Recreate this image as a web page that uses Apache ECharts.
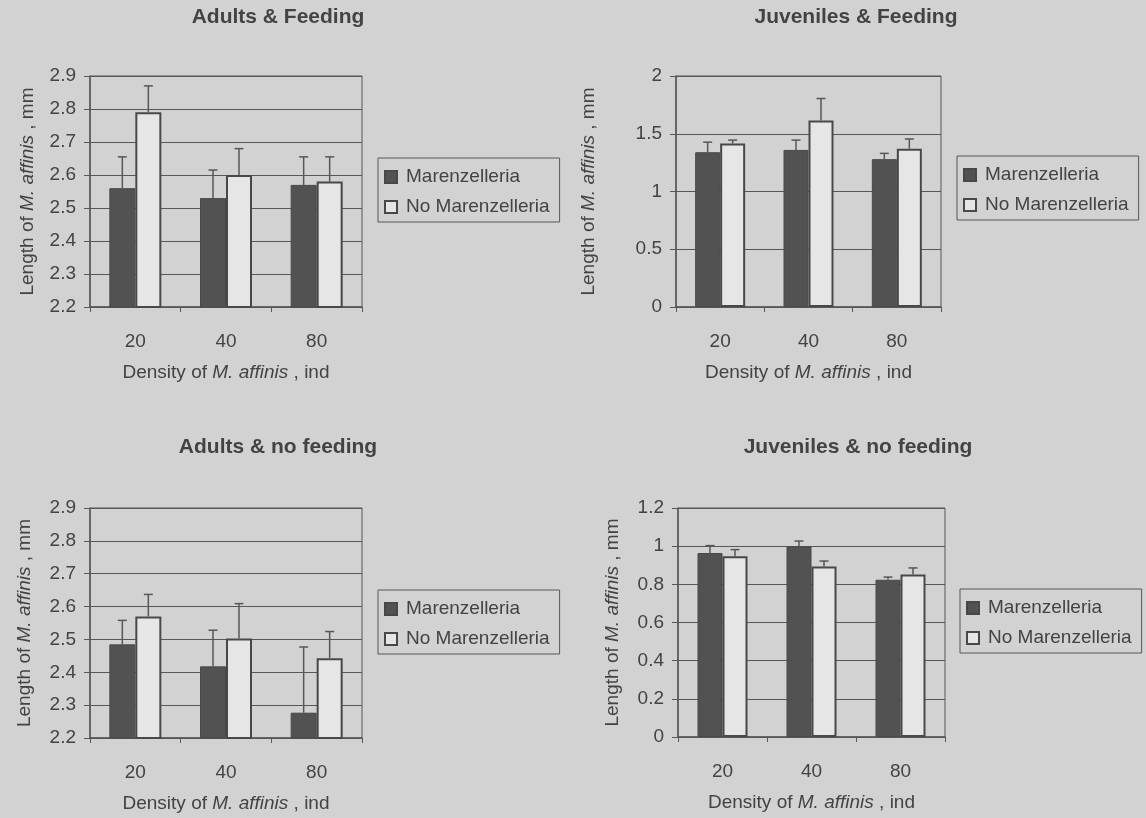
<!DOCTYPE html>
<html>
<head>
<meta charset="utf-8">
<script src="https://cdn.jsdelivr.net/npm/echarts@6/dist/echarts.min.js"></script>
<style>
    html, body { margin: 0; padding: 0; background: #d2d2d2; }
    #main { width: 1146px; height: 818px; }
</style>
</head>
<body>
<div id="main"></div>
<script>
    // categories (density of M. affinis)
    const densities = ['20', '40', '80'];
    const seriesNames = ['Marenzelleria', 'No Marenzelleria'];

    // Adults & Feeding
    const adFeedMar = [2.56, 2.53, 2.57];
    const adFeedMarErr = [0.095, 0.085, 0.085];
    const adFeedNoMar = [2.79, 2.60, 2.58];
    const adFeedNoMarErr = [0.08, 0.08, 0.075];

    // Juveniles & Feeding
    const juvFeedMar = [1.34, 1.36, 1.28];
    const juvFeedMarErr = [0.087, 0.085, 0.05];
    const juvFeedNoMar = [1.415, 1.615, 1.37];
    const juvFeedNoMarErr = [0.03, 0.19, 0.085];

    // Adults & no feeding
    const adNoFeedMar = [2.485, 2.418, 2.277];
    const adNoFeedMarErr = [0.073, 0.11, 0.2];
    const adNoFeedNoMar = [2.57, 2.503, 2.443];
    const adNoFeedNoMarErr = [0.067, 0.106, 0.081];

    // Juveniles & no feeding
    const juvNoFeedMar = [0.964, 0.999, 0.824];
    const juvNoFeedMarErr = [0.039, 0.028, 0.014];
    const juvNoFeedNoMar = [0.947, 0.893, 0.851];
    const juvNoFeedNoMarErr = [0.035, 0.029, 0.035];

    const font = '"Liberation Sans", Arial, sans-serif';
    const textColor = '#434343';
    const lineColor = '#575757';
    const darkFill = '#525252';
    const lightFill = '#e6e6e6';

    const panels = [
        { title: 'Adults & Feeding', titleX: 278, titleY: 17,
          grid: { left: 90, top: 76, width: 272, height: 231 },
          min: 2.2, max: 2.9, interval: 0.1, yGap: 53, barW: 26,
          legend: { left: 378, top: 158 },
          mar: adFeedMar, marErr: adFeedMarErr, noMar: adFeedNoMar, noMarErr: adFeedNoMarErr },
        { title: 'Juveniles & Feeding', titleX: 856, titleY: 17,
          grid: { left: 676, top: 76, width: 265, height: 231 },
          min: 0, max: 2, interval: 0.5, yGap: 78, barW: 25,
          legend: { left: 957, top: 156 },
          mar: juvFeedMar, marErr: juvFeedMarErr, noMar: juvFeedNoMar, noMarErr: juvFeedNoMarErr },
        { title: 'Adults & no feeding', titleX: 278, titleY: 447,
          grid: { left: 90, top: 508, width: 272, height: 230 },
          min: 2.2, max: 2.9, interval: 0.1, yGap: 56, barW: 26,
          legend: { left: 378, top: 590 },
          mar: adNoFeedMar, marErr: adNoFeedMarErr, noMar: adNoFeedNoMar, noMarErr: adNoFeedNoMarErr },
        { title: 'Juveniles & no feeding', titleX: 858, titleY: 447,
          grid: { left: 678, top: 508, width: 267, height: 229 },
          min: 0, max: 1.2, interval: 0.2, yGap: 56, barW: 25,
          legend: { left: 960, top: 589 },
          mar: juvNoFeedMar, marErr: juvNoFeedMarErr, noMar: juvNoFeedNoMar, noMarErr: juvNoFeedNoMarErr }
    ];

    const italicRich = {
        i: { fontStyle: 'italic', fontFamily: font, fontSize: 19, color: textColor }
    };

    function errorSeries(idx, means, errs, side, barW) {
        return {
            type: 'custom',
            name: 'err',
            xAxisIndex: idx,
            yAxisIndex: idx,
            silent: true,
            z: 4,
            data: means.map((m, k) => [k, m, m + errs[k]]),
            encode: { x: 0, y: [1, 2] },
            renderItem: function (params, api) {
                let base = api.coord([api.value(0), api.value(1)]);
                let top = api.coord([api.value(0), api.value(2)]);
                let x = base[0] + side * barW / 2;
                let style = { stroke: lineColor, lineWidth: 1.5 };
                return {
                    type: 'group',
                    children: [
                        { type: 'line', shape: { x1: x, y1: base[1], x2: x, y2: top[1] }, style: style },
                        { type: 'line', shape: { x1: x - 4.5, y1: top[1], x2: x + 4.5, y2: top[1] }, style: style }
                    ]
                };
            }
        };
    }

    let series = [];
    panels.forEach(function (p, i) {
        series.push({
            name: seriesNames[0], type: 'bar', xAxisIndex: i, yAxisIndex: i,
            data: p.mar, barWidth: p.barW, barGap: '0%',
            itemStyle: { color: darkFill, borderColor: '#484848', borderWidth: 1 },
            emphasis: { disabled: true }, z: 2
        });
        series.push({
            name: seriesNames[1], type: 'bar', xAxisIndex: i, yAxisIndex: i,
            data: p.noMar, barWidth: p.barW, barGap: '0%',
            itemStyle: { color: lightFill, borderColor: '#484848', borderWidth: 2 },
            emphasis: { disabled: true }, z: 2
        });
        series.push(errorSeries(i, p.mar, p.marErr, -1, p.barW));
        series.push(errorSeries(i, p.noMar, p.noMarErr, 1, p.barW));
    });

    let option = {
        backgroundColor: '#d2d2d2',
        animation: false,
        textStyle: { fontFamily: font },
        graphic: panels.map(p => ({
            type: 'text',
            x: p.titleX,
            y: p.titleY,
            style: {
                text: p.title,
                align: 'center',
                verticalAlign: 'middle',
                font: 'bold 21px ' + font,
                fill: '#434343'
            }
        })),
        grid: panels.map(p => ({
            left: p.grid.left, top: p.grid.top, width: p.grid.width, height: p.grid.height,
            show: true, borderColor: lineColor, borderWidth: 1,
            backgroundColor: 'transparent', containLabel: false, outerBoundsMode: 'none'
        })),
        legend: panels.map(p => ({
            orient: 'vertical',
            left: p.legend.left,
            top: p.legend.top,
            data: seriesNames,
            icon: 'rect',
            itemWidth: 12,
            itemHeight: 12,
            itemGap: 10,
            padding: [9, 10, 5, 6],
            borderColor: lineColor,
            borderWidth: 1,
            selectedMode: false,
            textStyle: { fontFamily: font, fontSize: 19, color: textColor, lineHeight: 20, padding: [0, 0, 0, 4] }
        })),
        xAxis: panels.map((p, i) => ({
            type: 'category',
            gridIndex: i,
            data: densities,
            axisLine: { show: true, lineStyle: { color: lineColor, width: 1.5 } },
            axisTick: { show: true, length: 5, lineStyle: { color: lineColor, width: 1 } },
            axisLabel: { margin: 25, fontFamily: font, fontSize: 19, color: textColor },
            splitLine: { show: false },
            name: 'Density of {i|M. affinis} , ind',
            nameLocation: 'middle',
            nameGap: 56,
            nameTextStyle: { fontFamily: font, fontSize: 19, color: textColor, rich: italicRich }
        })),
        yAxis: panels.map((p, i) => ({
            type: 'value',
            gridIndex: i,
            min: p.min,
            max: p.max,
            interval: p.interval,
            axisLine: { show: true, lineStyle: { color: lineColor, width: 1.5 } },
            axisTick: { show: true, length: 6, lineStyle: { color: lineColor, width: 1 } },
            axisLabel: { margin: 14, fontFamily: font, fontSize: 19, color: textColor },
            splitLine: { show: true, lineStyle: { color: lineColor, width: 1 } },
            name: 'Length of {i|M. affinis} , mm',
            nameLocation: 'middle',
            nameGap: p.yGap,
            nameTextStyle: { fontFamily: font, fontSize: 19, color: textColor, rich: italicRich }
        })),
        series: series
    };

    let myChart = echarts.init(document.getElementById('main'));
    myChart.setOption(option);
</script>
</body>
</html>
